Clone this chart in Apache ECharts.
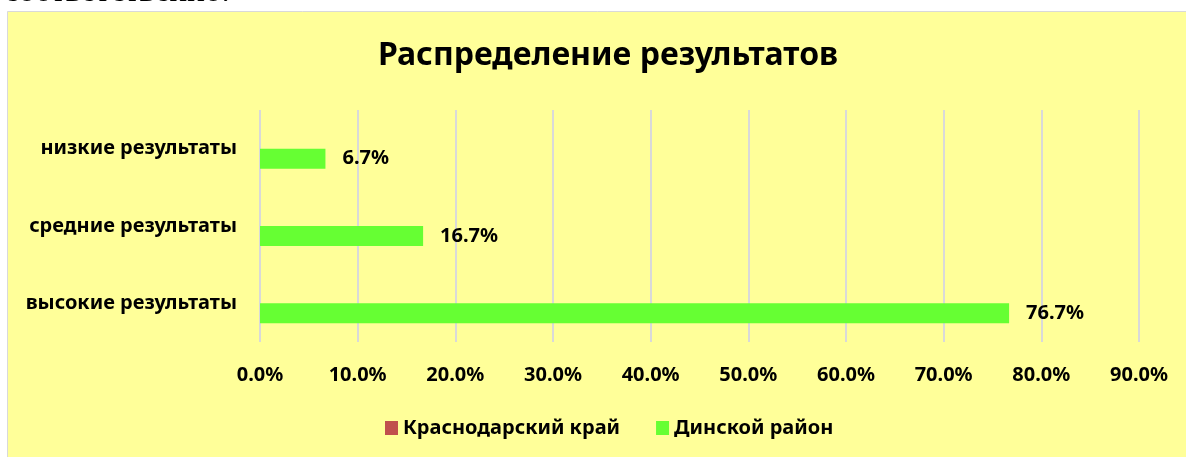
<!DOCTYPE html>
<html>
<head>
<meta charset="utf-8">
<script src="https://cdn.jsdelivr.net/npm/echarts@6/dist/echarts.min.js"></script>
<style>
  html, body {margin: 0; padding: 0; background: #fff;}
  #chart {width: 1186px; height: 457px;}
</style>
</head>
<body>
<div id="chart"></div>
<script>
const categories = ['низкие результаты', 'средние результаты', 'высокие результаты']
const kraiValues = [null, null, null]          // Краснодарский край — no bars shown
const dinskayaValues = [6.7, 16.7, 76.7]        // Динской район, %
const xTicks = [0, 10, 20, 30, 40, 50, 60, 70, 80, 90]

const font = '"Noto Sans", "Open Sans", sans-serif'
const chart = echarts.init(document.getElementById('chart'))

chart.setOption({
  animation: false,
  backgroundColor: '#fff',
  graphic: [
    {
      type: 'rect',
      z: -10,
      shape: {x: 7.5, y: 11.5, width: 1220, height: 500},
      style: {fill: '#FFFF99', stroke: '#D9D9D9', lineWidth: 1}
    },
    {
      type: 'text',
      z: -5,
      style: {
        x: 4, y: 8.5,
        verticalAlign: 'bottom',
        text: 'соответственно.',
        font: '33px "Liberation Serif", serif',
        fill: '#000'
      }
    }
  ],
  title: {
    text: 'Распределение результатов',
    left: 603,
    top: 35,
    textAlign: 'center',
    textStyle: {fontFamily: font, fontWeight: 'bold', fontSize: 32, color: '#000'}
  },
  legend: {
    left: 380,
    top: 413,
    itemWidth: 13,
    itemHeight: 14,
    itemGap: 36,
    icon: 'rect',
    data: ['Краснодарский край', 'Динской район'],
    textStyle: {fontFamily: font, fontWeight: 'bold', fontSize: 20, color: '#000'}
  },
  grid: {left: 260, right: 47, top: 110, bottom: 115, containLabel: false},
  xAxis: {
    type: 'value',
    min: xTicks[0],
    max: xTicks[xTicks.length - 1],
    interval: 10,
    axisLine: {show: false},
    axisTick: {show: false},
    splitLine: {show: true, lineStyle: {color: '#D9D9D9', width: 2}},
    axisLabel: {
      margin: 23,
      fontFamily: font,
      fontWeight: 'bold',
      fontSize: 20,
      color: '#000',
      formatter: v => v.toFixed(1) + '%'
    }
  },
  yAxis: {
    type: 'category',
    inverse: true,
    data: categories,
    axisLine: {show: false},
    axisTick: {show: false},
    axisLabel: {margin: 23, fontFamily: font, fontWeight: 'bold', fontSize: 20, color: '#000'}
  },
  series: [
    {
      name: 'Краснодарский край',
      type: 'bar',
      barWidth: 20,
      barGap: '0%',
      itemStyle: {color: '#C0504D'},
      data: kraiValues
    },
    {
      name: 'Динской район',
      type: 'bar',
      barWidth: 20,
      barGap: '0%',
      itemStyle: {color: '#66FF33'},
      label: {
        show: true,
        position: 'right',
        distance: 17,
        fontFamily: font,
        fontWeight: 'bold',
        fontSize: 20,
        color: '#000',
        formatter: p => p.value.toFixed(1) + '%'
      },
      data: dinskayaValues
    }
  ]
})
</script>
</body>
</html>
